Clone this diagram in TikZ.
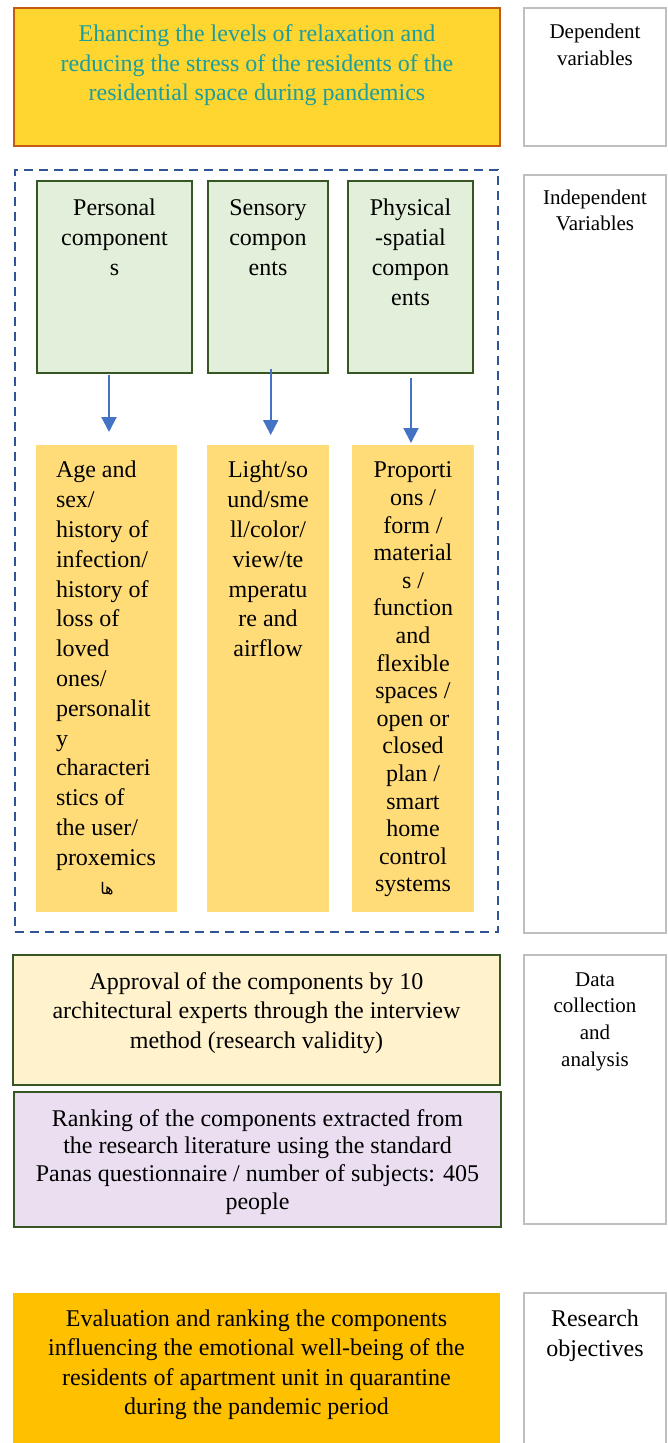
\documentclass[tikz,border=0pt]{standalone}
\usepackage{fontspec}
\setmainfont{Liberation Serif}
\newfontfamily\arabicfont[Script=Arabic]{DejaVu Sans}
\TeXXeTstate=1
\usetikzlibrary{arrows.meta}
\definecolor{topfill}{RGB}{255,213,47}
\definecolor{topborder}{RGB}{197,90,17}
\definecolor{teal}{RGB}{26,158,160}
\definecolor{sidegray}{RGB}{191,191,191}
\definecolor{dashblue}{RGB}{47,85,151}
\definecolor{greenfill}{RGB}{226,239,218}
\definecolor{greenborder}{RGB}{55,86,35}
\definecolor{arrblue}{RGB}{68,114,196}
\definecolor{yellowfill}{RGB}{255,220,120}
\definecolor{creamfill}{RGB}{255,242,204}
\definecolor{lilacfill}{RGB}{234,222,240}
\definecolor{orangefill}{RGB}{255,192,0}
\tikzset{
  boxbase/.style={rectangle, anchor=north west, inner sep=0pt, outer sep=0pt},
  sidebox/.style={boxbase, draw=sidegray, line width=1.5pt, fill=white},
  greenbox/.style={boxbase, draw=greenborder, line width=2pt, fill=greenfill},
  yellowbox/.style={boxbase, fill=yellowfill},
  txt/.style={inner sep=0pt, outer sep=0pt, anchor=north, align=center},
  arr/.style={draw=arrblue, line width=2pt, -{Triangle[width=15pt,length=15pt]}, arrblue},
}
\begin{document}
\begin{tikzpicture}[x=1pt,y=-1pt]
\useasboundingbox (0,0) rectangle (668,1443);

% top box
\node[boxbase, draw=topborder, line width=2.5pt, fill=topfill, minimum width=486pt, minimum height=138pt] (top) at (14,8) {};
\node[txt, text=teal, font={\fontsize{24}{29.5}\selectfont}] (toptxt) at (257,21)
  {\strut Ehancing the levels of relaxation and\\reducing the stress of the residents of the\\residential space during pandemics};

% side boxes
\node[sidebox, minimum width=142pt, minimum height=138pt] (dep) at (524,8) {};
\node[txt, font={\fontsize{21}{27}\selectfont}] (deptxt) at (595,19.1) {\strut Dependent\\variables};

\node[sidebox, minimum width=142pt, minimum height=758pt] (indep) at (524,175) {};
\node[txt, font={\fontsize{21}{26}\selectfont}] (indeptxt) at (595,185.8) {\strut Independent\\Variables};

\node[sidebox, minimum width=142pt, minimum height=269pt] (data) at (524,955) {};
\node[txt, font={\fontsize{21}{26.7}\selectfont}] (datatxt) at (595,967.3) {\strut Data\\collection\\and\\analysis};

\node[sidebox, minimum width=142pt, minimum height=160pt] (res) at (524,1293) {};
\node[txt, font={\fontsize{24}{30}\selectfont}] (restxt) at (595,1305) {\strut Research\\objectives};

% dashed frame
\node[boxbase, draw=dashblue, line width=2pt, dash pattern=on 9pt off 6pt, minimum width=483pt, minimum height=762pt] (frame) at (15,170) {};

% green boxes
\node[greenbox, minimum width=155pt, minimum height=192pt] (g1) at (37,181) {};
\node[greenbox, minimum width=120pt, minimum height=192pt] (g2) at (208,181) {};
\node[greenbox, minimum width=125pt, minimum height=192pt] (g3) at (348,181) {};
\node[txt, font={\fontsize{24}{30}\selectfont}] (g1txt) at (114.5,194.5) {\strut Personal\\component\\s};
\node[txt, font={\fontsize{24}{30}\selectfont}] (g2txt) at (268,194.5) {\strut Sensory\\compon\\ents};
\node[txt, font={\fontsize{24}{30}\selectfont}] (g3txt) at (410.5,194.5) {\strut Physical\\-spatial\\compon\\ents};

% yellow boxes
\node[yellowbox, minimum width=141pt, minimum height=467pt] (y1) at (36,445) {};
\node[yellowbox, minimum width=122pt, minimum height=467pt] (y2) at (207,445) {};
\node[yellowbox, minimum width=122pt, minimum height=467pt] (y3) at (352,445) {};
\node[txt, anchor=north west, align=left, font={\fontsize{24}{29.8}\selectfont}] (y1txt) at (56,457)
  {\strut Age and\\sex/\\history of\\infection/\\history of\\loss of\\loved\\ones/\\personalit\\y\\characteri\\stics of\\the user/\\proxemics};
\node[anchor=base, inner sep=0pt, font={\arabicfont\fontsize{16}{16}\selectfont}] (y1ar) at (107,894) {\beginR ها\endR};
\node[txt, font={\fontsize{24}{29.8}\selectfont}] (y2txt) at (268,457)
  {\strut Light/so\\und/sme\\ll/color/\\view/te\\mperatu\\re and\\airflow};
\node[txt, font={\fontsize{24}{27.6}\selectfont}] (y3txt) at (413,458.6)
  {\strut Proporti\\ons /\\form /\\material\\s /\\function\\and\\flexible\\spaces /\\open or\\closed\\plan /\\smart\\home\\control\\systems};

% arrows
\draw[arr] ([xshift=-5.5pt,yshift=-2pt]g1.south) -- ([xshift=2.5pt,yshift=13pt]y1.north);
\draw[arr] ([xshift=2.7pt,yshift=4pt]g2.south) -- ([xshift=2.7pt,yshift=10pt]y2.north);
\draw[arr] ([xshift=0.5pt,yshift=-5pt]g3.south) -- ([xshift=-2pt,yshift=2pt]y3.north);

% data collection boxes
\node[boxbase, draw=greenborder, line width=2pt, fill=creamfill, minimum width=487pt, minimum height=130pt] (appr) at (13,955) {};
\node[txt, font={\fontsize{24}{29.5}\selectfont}] (apprtxt) at (256.5,968.6)
  {\strut Approval of the components by 10\\architectural experts through the interview\\method (research validity)};
\node[boxbase, draw=greenborder, line width=2pt, fill=lilacfill, minimum width=487pt, minimum height=135pt] (rank) at (14,1092) {};
\node[txt, font={\fontsize{24}{27.7}\selectfont}] (ranktxt) at (257.5,1106.8)
  {\strut Ranking of the components extracted from\\the research literature using the standard\\Panas questionnaire / number of subjects: 405\\people};

% bottom box
\node[boxbase, fill=orangefill, minimum width=487pt, minimum height=160pt] (bot) at (13,1293) {};
\node[txt, font={\fontsize{24}{29.5}\selectfont}] (bottxt) at (256.5,1305.6)
  {\strut Evaluation and ranking the components\\influencing the emotional well-being of the\\residents of apartment unit in quarantine\\during the pandemic period};
\end{tikzpicture}
\end{document}
